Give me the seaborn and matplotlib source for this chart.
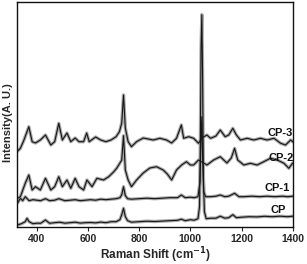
import numpy as np
import pandas as pd
import matplotlib
matplotlib.use("Agg")
import matplotlib.pyplot as plt
import seaborn as sns

# ---- data (arbitrary intensity units) ----
cp_x = [325, 340, 355, 362, 370, 385, 400, 415, 434, 450, 470, 490, 510, 530, 550,
        570, 590, 610, 630, 650, 670, 690, 710, 725, 732, 739, 746, 755, 770, 800,
        830, 860, 890, 920, 950, 965, 980, 1000, 1015, 1030, 1036, 1039, 1042, 1045,
        1048, 1051, 1055, 1062, 1080, 1100, 1117, 1135, 1150, 1166, 1180, 1200, 1230,
        1260, 1290, 1320, 1350, 1380, 1400]
cp_y = [1.7, 3.0, 5.0, 8.4, 5.0, 3.0, 3.5, 3.4, 6.7, 3.4, 4.0, 4.5, 3.5, 4.0, 4.5,
        3.6, 4.0, 4.2, 3.8, 4.6, 4.0, 5.0, 5.0, 7.0, 12.0, 18.4, 10.0, 6.0, 4.5, 5.0,
        5.5, 5.2, 5.6, 6.0, 6.4, 7.5, 6.0, 7.0, 6.5, 8.0, 20.0, 80.0, 180.0, 212.0,
        150.0, 50.0, 15.0, 8.0, 8.5, 8.5, 10.5, 8.5, 9.0, 12.0, 9.0, 9.5, 10.0,
        9.8, 10.4, 10.0, 10.5, 10.0, 10.5]

cp1_x = [325, 336, 345, 355, 370, 385, 400, 415, 434, 450, 470, 486, 510, 530, 550,
         570, 590, 610, 630, 650, 670, 690, 710, 725, 732, 739, 746, 755, 770, 800,
         830, 860, 890, 920, 950, 965, 980, 1000, 1015, 1030, 1038, 1042, 1045, 1048,
         1052, 1060, 1080, 1100, 1117, 1135, 1150, 1173, 1190, 1210, 1240, 1270, 1300,
         1330, 1360, 1380, 1400]
cp1_y = [23.7, 28.4, 26.0, 30.0, 26.0, 27.0, 26.5, 26.0, 28.0, 26.0, 26.5, 28.0, 26.0, 26.5, 27.0,
         26.0, 26.5, 27.0, 26.5, 27.5, 27.0, 27.5, 28.0, 29.0, 32.0, 40.0, 31.0, 28.0, 27.5, 28.0,
         28.5, 28.0, 28.5, 29.0, 29.0, 31.7, 29.0, 29.5, 29.0, 30.0, 45.0, 90.0, 110.0, 70.0,
         35.0, 30.0, 30.0, 30.5, 31.7, 30.0, 30.5, 33.4, 30.0, 30.0, 30.5, 30.0, 30.5,
         30.0, 30.5, 30.0, 30.5]

cp2_x = [325, 336, 355, 369, 382, 395, 414, 434, 455, 470, 486, 500, 518, 533, 550,
         565, 583, 596, 616, 635, 661, 681, 700, 713, 725, 732, 739, 746, 757, 770,
         790, 816, 842, 868, 894, 910, 927, 946, 966, 985, 1000, 1013, 1032, 1065,
         1091, 1117, 1143, 1160, 1173, 1185, 1209, 1235, 1261, 1287, 1313, 1340,
         1366, 1385, 1400]
cp2_y = [28.4, 30.0, 43.4, 51.7, 36.7, 40.0, 36.7, 48.4, 36.7, 40.0, 50.0, 40.0, 46.7, 38.4, 48.4,
         40.0, 36.7, 46.7, 40.0, 48.4, 46.7, 50.0, 54.7, 58.7, 63.7, 66.7, 91.0, 56.7, 46.7, 40.0,
         46.7, 53.7, 58.7, 60.0, 56.7, 52.7, 46.7, 56.7, 61.7, 65.0, 61.7, 61.7, 66.7, 61.7,
         66.7, 70.0, 63.7, 68.7, 78.4, 66.7, 61.7, 63.4, 61.7, 65.0, 68.4, 66.7,
         63.4, 58.4, 63.7]

cp3_x = [323, 336, 350, 369, 382, 395, 414, 434, 455, 470, 486, 500, 518, 533, 550,
         565, 583, 595, 605, 630, 650, 670, 690, 710, 723, 732, 739, 746, 757, 770,
         790, 816, 855, 881, 907, 927, 946, 965, 974, 994, 1013, 1032, 1045, 1065,
         1079, 1100, 1117, 1136, 1150, 1166, 1180, 1196, 1222, 1248, 1274, 1300,
         1327, 1353, 1372, 1392, 1400]
cp3_y = [75.0, 78.4, 86.7, 100.0, 85.0, 83.7, 86.7, 91.7, 81.7, 85.0, 103.4, 86.7, 93.7, 85.0, 88.7,
         85.0, 85.0, 93.7, 85.0, 89.7, 86.7, 85.0, 86.7, 90.0, 95.0, 103.7, 131.7, 98.7, 85.0, 80.0,
         85.0, 88.7, 86.7, 88.4, 86.7, 83.7, 88.4, 101.7, 88.4, 90.0, 88.4, 83.4, 88.7, 91.7,
         88.4, 90.7, 96.7, 90.0, 91.7, 98.4, 91.7, 86.7, 88.4, 86.7, 88.4, 86.7,
         88.4, 83.4, 81.7, 86.7, 85.0]

series_names = ["CP", "CP-1", "CP-2", "CP-3"]
label_x = [1345, 1341, 1356, 1349]
label_y = [16.7, 38.4, 68.4, 94.0]
x_ticks = [400, 600, 800, 1000, 1200, 1400]

frames = []
for name, xs, ys in zip(series_names, [cp_x, cp1_x, cp2_x, cp3_x], [cp_y, cp1_y, cp2_y, cp3_y]):
    frames.append(pd.DataFrame({"shift": xs, "intensity": ys, "sample": name}))
df = pd.concat(frames, ignore_index=True)

sns.set_style("white")
plt.rcParams["font.family"] = ["Liberation Sans", "DejaVu Sans"]
plt.rcParams["font.weight"] = "bold"

fig = plt.figure(figsize=(3.07, 2.64), dpi=100)
ax = fig.add_axes([0.0564, 0.1413, 0.897, 0.85])

sns.lineplot(data=df, x="shift", y="intensity", units="sample", estimator=None,
             color="#a8a8a8", linewidth=2.4, ax=ax, sort=False, legend=False)
sns.lineplot(data=df, x="shift", y="intensity", units="sample", estimator=None,
             color="#151515", linewidth=0.8, ax=ax, sort=False, legend=False)

for name, lx, ly in zip(series_names, label_x, label_y):
    ax.text(lx, ly, name, fontsize=8, fontweight="bold", ha="center", va="center",
            color="#111111")

ax.set_xlim(324, 1400)
ax.set_ylim(0, 224.4)
ax.set_xticks(x_ticks)
ax.set_xticklabels([str(t) for t in x_ticks], fontsize=7.5, fontweight="bold")
ax.set_yticks([])
ax.tick_params(axis="x", direction="out", length=3, width=0.8, pad=2, bottom=True)
ax.set_xlabel("")
ax.set_ylabel("")
fig.text(0.508, 0.034, "Raman Shift (cm$^{\\mathbf{-1}}$)", fontsize=8.5, fontweight="bold",
         ha="center", va="center")
fig.text(0.026, 0.536, "Intensity(A. U.)", fontsize=8, fontweight="bold",
         ha="center", va="center", rotation=90)
for s in ax.spines.values():
    s.set_linewidth(1.0)
    s.set_color("#111111")

fig.savefig("out.png", dpi=100)
